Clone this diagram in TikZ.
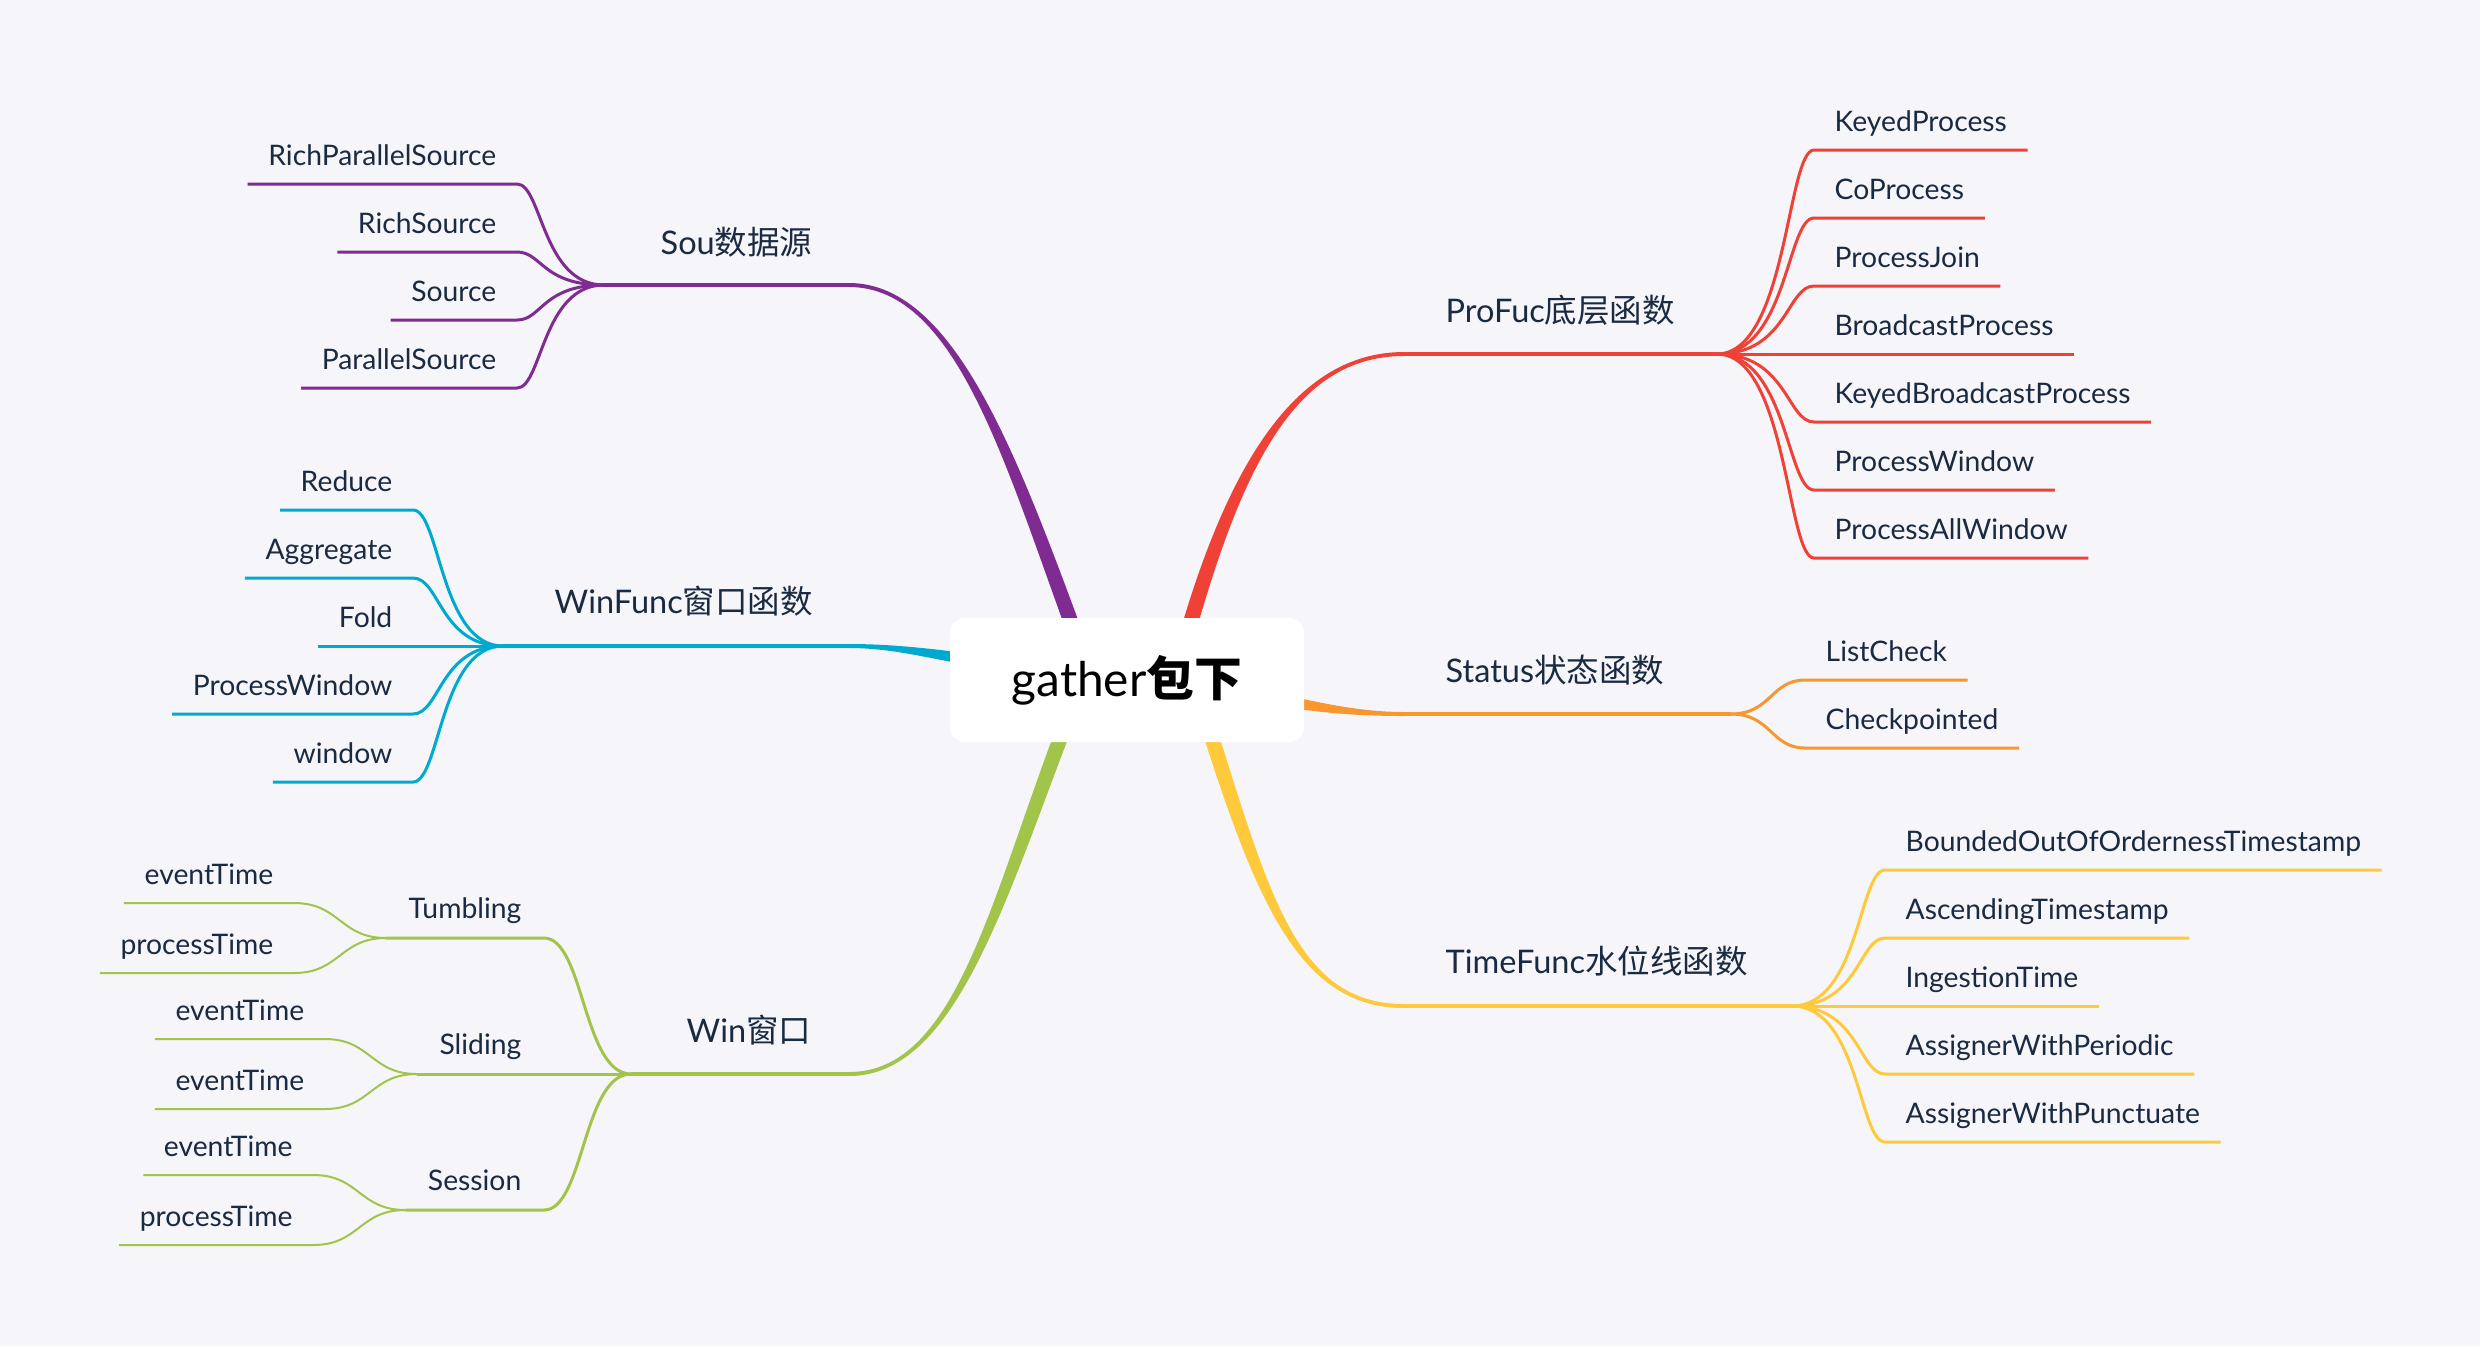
\documentclass[tikz,border=0pt]{standalone}
\usepackage{fontspec}
\setmainfont{Lato}
\newfontfamily\cjk{Noto Sans CJK SC}
\usetikzlibrary{calc}

\definecolor{bg}{HTML}{F5F5FA}
\definecolor{ink}{HTML}{1A2A40}
\definecolor{cPurple}{HTML}{7F2B92}
\definecolor{cRed}{HTML}{EF4136}
\definecolor{cCyan}{HTML}{00A9CE}
\definecolor{cOrange}{HTML}{F8962F}
\definecolor{cYellow}{HTML}{FFC93C}
\definecolor{cGreen}{HTML}{A3C44A}

% tapered main branch: colour, end, start, ctrl at end, ctrl at start, half width at end, half width at start
\newcommand{\branchfill}[7]{%
  \fill[#1] ($(#2)+(#6)$) .. controls +(#4) and +(#5) .. ($(#3)+(#7)$)
    -- ($(#3)-(#7)$) .. controls +(#5) and +(#4) .. ($(#2)-(#6)$) -- cycle;}

\begin{document}
\begin{tikzpicture}[x=0.1mm, y=-0.1mm,
    root/.style = {fill=white, rounded corners=1.5mm, minimum width=35.4mm, minimum height=12.4mm, inner sep=0pt, text=black, font=\fontsize{13.6}{16}\selectfont},
    topic/.style = {anchor=base west, inner sep=0pt, text=ink, font=\fontsize{9.25}{11}\selectfont},
    leaf/.style = {inner xsep=2mm, inner ysep=1.8mm, text depth=0pt, text=ink, font=\fontsize{8.05}{10}\selectfont},
    sub/.style = {leaf, inner xsep=2.2mm, inner ysep=1.9mm},
    mainline/.style = {line width=0.4mm},
    leafline/.style = {line width=0.3mm},
    thinline/.style = {line width=0.2mm}]

	%Canvas
	\fill[bg] (0,0) rectangle (2480,1346);
	\useasboundingbox (0,0) rectangle (2480,1346);

	%End, fan and start points of the main branches
	\coordinate (sou-e) at (849,285);   \coordinate (sou-f) at (604,285);   \coordinate (sou-s) at (1085,660);
	\coordinate (wf-e) at (849,646);    \coordinate (wf-f) at (503,646);    \coordinate (wf-s) at (990,662);
	\coordinate (win-e) at (849,1074);  \coordinate (win-f) at (631,1074);  \coordinate (win-s) at (1075,700);
	\coordinate (pro-e) at (1404,354);  \coordinate (pro-f) at (1717,354);  \coordinate (pro-s) at (1180,660);
	\coordinate (st-e) at (1404,714);   \coordinate (st-f) at (1731,714);   \coordinate (st-s) at (1270,698);
	\coordinate (tim-e) at (1404,1006); \coordinate (tim-f) at (1792,1006); \coordinate (tim-s) at (1200,700);

	%Main branches
	\branchfill{cPurple}{sou-e}{sou-s}{110,0}{-70,-188}{0,-2}{8,0}
	\branchfill{cCyan}{wf-e}{wf-s}{50,0}{-50,-6}{0,-2}{0,-6}
	\branchfill{cGreen}{win-e}{win-s}{110,0}{-75,190}{0,-2}{-8,0}
	\branchfill{cRed}{pro-e}{pro-s}{-110,0}{52,-192}{0,2}{8,0}
	\branchfill{cOrange}{st-e}{st-s}{-50,0}{40,8}{0,2}{0,6}
	\branchfill{cYellow}{tim-e}{tim-s}{-110,0}{60,190}{0,2}{-8,0}

	\draw[mainline, cPurple] (sou-f) -- (sou-e);
	\draw[mainline, cCyan] (wf-f) -- (wf-e);
	\draw[mainline, cGreen] (win-f) -- (win-e);
	\draw[mainline, cRed] (pro-e) -- (pro-f);
	\draw[mainline, cOrange] (st-e) -- (st-f);
	\draw[mainline, cYellow] (tim-e) -- (tim-f);

	%Topic labels
	\node[topic] (sou) at (660,254) {Sou{\cjk 数据源}};
	\node[topic] (wf) at (554,613) {WinFunc{\cjk 窗口函数}};
	\node[topic] (win) at (686,1042) {Win{\cjk 窗口}};
	\node[topic] (pro) at (1445,322) {ProFuc{\cjk 底层函数}};
	\node[topic] (st) at (1445,682) {Status{\cjk 状态函数}};
	\node[topic] (tim) at (1445,973) {TimeFunc{\cjk 水位线函数}};

	%Sou leaves
	\foreach \lbl [count=\i] in {RichParallelSource, RichSource, Source, ParallelSource}{
		\node[leaf, anchor=south east] (sou\i) at (517,{116+68*\i}) {\lbl};
		\draw[leafline, cPurple] (sou-f) .. controls +(-62,0) and +(25,0) .. (sou\i.south east) -- (sou\i.south west);
	}

	%WinFunc leaves
	\foreach \lbl [count=\i] in {Reduce, Aggregate, Fold, ProcessWindow, window}{
		\node[leaf, anchor=south east] (wf\i) at (413,{442+68*\i}) {\lbl};
		\draw[leafline, cCyan] (wf-f) .. controls +(-63,0) and +(27,0) .. (wf\i.south east) -- (wf\i.south west);
	}

	%ProFuc leaves
	\foreach \lbl [count=\i] in {KeyedProcess, CoProcess, ProcessJoin, BroadcastProcess, KeyedBroadcastProcess, ProcessWindow, ProcessAllWindow}{
		\node[leaf, anchor=south west] (pro\i) at (1814,{82+68*\i}) {\lbl};
		\draw[leafline, cRed] (pro-f) .. controls +(70,0) and +(-27,0) .. (pro\i.south west) -- (pro\i.south east);
	}

	%Status leaves
	\foreach \lbl [count=\i] in {ListCheck, Checkpointed}{
		\node[leaf, anchor=south west] (st\i) at (1805,{612+68*\i}) {\lbl};
		\draw[leafline, cOrange] (st-f) .. controls +(40,0) and +(-34,0) .. (st\i.south west) -- (st\i.south east);
	}

	%TimeFunc leaves
	\foreach \lbl [count=\i] in {BoundedOutOfOrdernessTimestamp, AscendingTimestamp, IngestionTime, AssignerWithPeriodic, AssignerWithPunctuate}{
		\node[leaf, anchor=south west] (tim\i) at (1885,{802+68*\i}) {\lbl};
		\draw[leafline, cYellow] (tim-f) .. controls +(67,0) and +(-26,0) .. (tim\i.south west) -- (tim\i.south east);
	}

	%Win sub topics
	\foreach \lbl/\nm [count=\i] in {Tumbling/tum, Sliding/sli, Session/ses}{
		\node[sub, anchor=south east] (\nm) at (544,{802+136*\i}) {\lbl};
		\draw[leafline, cGreen] (win-f) .. controls +(-48,0) and +(40,0) .. (\nm.south east) -- (\nm.south west);
	}

	%Window time leaves
	\node[leaf, anchor=south east] (tum1) at ($(tum.south west)+(-92,-35)$) {eventTime};
	\node[leaf, anchor=south east] (tum2) at ($(tum.south west)+(-92,35)$) {processTime};
	\node[leaf, anchor=south east] (sli1) at ($(sli.south west)+(-92,-35)$) {eventTime};
	\node[leaf, anchor=south east] (sli2) at ($(sli.south west)+(-92,35)$) {eventTime};
	\node[leaf, anchor=south east] (ses1) at ($(ses.south west)+(-92,-35)$) {eventTime};
	\node[leaf, anchor=south east] (ses2) at ($(ses.south west)+(-92,35)$) {processTime};
	\foreach \nm in {tum, sli, ses}{
		\draw[thinline, cGreen] (\nm.south west) .. controls +(-46,0) and +(46,0) .. (\nm1.south east) -- (\nm1.south west);
		\draw[thinline, cGreen] (\nm.south west) .. controls +(-46,0) and +(46,0) .. (\nm2.south east) -- (\nm2.south west);
	}

	%Central topic
	\node[root] (root) at (1127,680) {gather{\cjk\bfseries 包下}};
\end{tikzpicture}
\end{document}
